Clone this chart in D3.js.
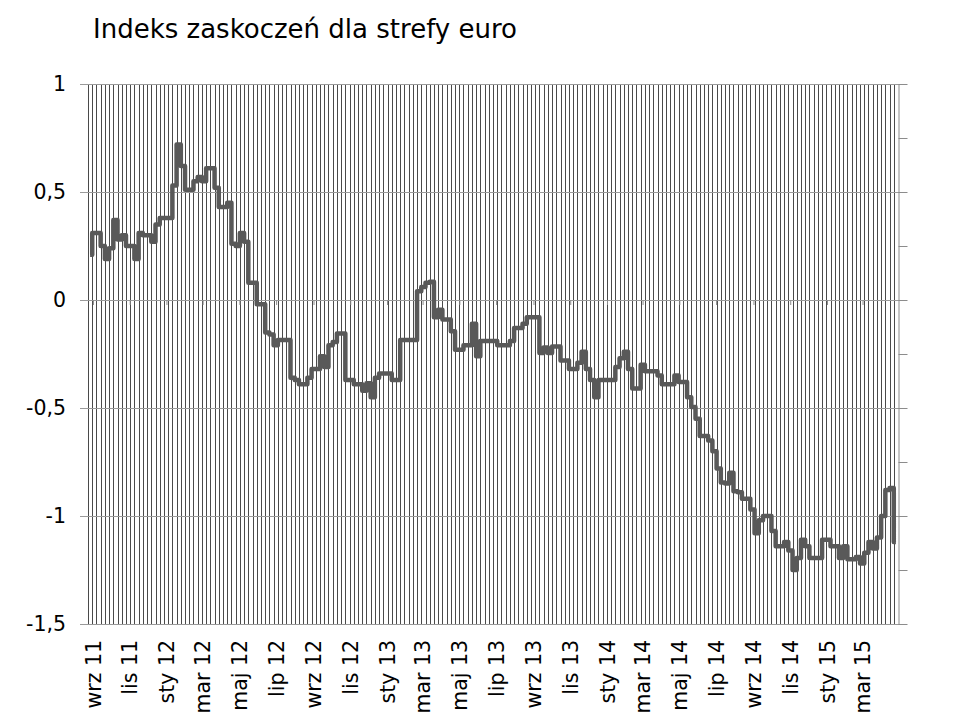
<!DOCTYPE html>
<html>
<head>
<meta charset="utf-8">
<script src="https://cdn.jsdelivr.net/npm/d3@7"></script>
<style>
  body { margin: 0; background: #fff; }
  text { font-family: "DejaVu Sans", Verdana, sans-serif; }
</style>
</head>
<body>
<svg id="graf" width="956" height="719"></svg>
<script>
// data (weekly index)

var title = "Indeks zaskoczeń dla strefy euro"
var firstWeek = "2011-08-23"

var values = [
  0.21, 0.31, 0.31, 0.25, 0.19, 0.24, 0.37, 0.28, 0.30, 0.25,
  0.25, 0.19, 0.31, 0.30, 0.30, 0.27, 0.35, 0.38, 0.38, 0.38,
  0.53, 0.72, 0.62, 0.51, 0.51, 0.55, 0.57, 0.55, 0.61, 0.61,
  0.52, 0.43, 0.43, 0.45, 0.26, 0.25, 0.31, 0.27, 0.08, 0.08,
  -0.02, -0.02, -0.15, -0.16, -0.21, -0.185, -0.185, -0.185, -0.36, -0.37,
  -0.39, -0.39, -0.36, -0.32, -0.32, -0.26, -0.31, -0.21, -0.195, -0.155,
  -0.155, -0.37, -0.37, -0.39, -0.39, -0.42, -0.385, -0.45, -0.36, -0.34,
  -0.34, -0.34, -0.37, -0.37, -0.185, -0.185, -0.185, -0.185, 0.04, 0.06,
  0.08, 0.085, -0.08, -0.045, -0.09, -0.09, -0.145, -0.23, -0.23, -0.21,
  -0.21, -0.11, -0.26, -0.19, -0.19, -0.19, -0.19, -0.21, -0.21, -0.21,
  -0.19, -0.13, -0.13, -0.11, -0.08, -0.08, -0.08, -0.245, -0.22, -0.245,
  -0.215, -0.215, -0.28, -0.28, -0.32, -0.32, -0.29, -0.24, -0.32, -0.37,
  -0.45, -0.37, -0.37, -0.37, -0.37, -0.31, -0.27, -0.24, -0.32, -0.41,
  -0.41, -0.30, -0.33, -0.33, -0.33, -0.35, -0.39, -0.39, -0.39, -0.35,
  -0.38, -0.38, -0.45, -0.495, -0.55, -0.63, -0.63, -0.65, -0.70, -0.78,
  -0.845, -0.85, -0.80, -0.885, -0.89, -0.92, -0.92, -0.97, -1.08, -1.02,
  -1.00, -1.00, -1.07, -1.14, -1.14, -1.12, -1.16, -1.25, -1.195, -1.11,
  -1.14, -1.195, -1.195, -1.195, -1.11, -1.11, -1.14, -1.14, -1.195, -1.14,
  -1.20, -1.20, -1.19, -1.22, -1.17, -1.12, -1.15, -1.10, -1.00, -0.88,
  -0.87, -1.12
]

var tickMonths = ["2011-09-01", "2011-11-01", "2012-01-01", "2012-03-01", "2012-05-01", "2012-07-01",
  "2012-09-01", "2012-11-01", "2013-01-01", "2013-03-01", "2013-05-01", "2013-07-01",
  "2013-09-01", "2013-11-01", "2014-01-01", "2014-03-01", "2014-05-01", "2014-07-01",
  "2014-09-01", "2014-11-01", "2015-01-01", "2015-03-01"]
var tickLabels = ["wrz 11", "lis 11", "sty 12", "mar 12", "maj 12", "lip 12",
  "wrz 12", "lis 12", "sty 13", "mar 13", "maj 13", "lip 13",
  "wrz 13", "lis 13", "sty 14", "mar 14", "maj 14", "lip 14",
  "wrz 14", "lis 14", "sty 15", "mar 15"]

var yTicks = [1, 0.5, 0, -0.5, -1, -1.5]

var Svg = d3.select("#graf")
var pLeft = 88, pRight = 898, pTop = 84, pBottom = 624

var parse = d3.timeParse("%Y-%m-%d")
var start = parse(firstWeek)

var x = d3.scaleBand().domain(d3.range(values.length)).range([pLeft, pRight])
var xTime = d3.scaleTime().domain([start, d3.timeDay.offset(start, 7 * values.length)]).range([pLeft, pRight])
var y = d3.scaleLinear().domain([-1.5, 1]).range([pBottom, pTop])

// weekly vertical lines
Svg.append("g").selectAll("line").data(d3.range(values.length)).enter().append("line")
  .attr("x1", d => Math.round(x(d)) + 0.5).attr("x2", d => Math.round(x(d)) + 0.5)
  .attr("y1", pTop).attr("y2", pBottom)
  .attr("stroke", "#4a4a4a").attr("stroke-width", 1)

// horizontal grid
Svg.append("g").selectAll("line").data(yTicks).enter().append("line")
  .attr("x1", pLeft - 8).attr("x2", pRight + 9)
  .attr("y1", d => Math.round(y(d)) + 0.5).attr("y2", d => Math.round(y(d)) + 0.5)
  .attr("stroke", "#9a9a9a")

// left axis labels
var osaY = Svg.append("g").attr("transform", "translate(" + pLeft + ",0)")
  .call(d3.axisLeft(y).tickValues(yTicks).tickSize(0).tickPadding(22)
    .tickFormat(d => String(d).replace(".", ",")))
osaY.select(".domain").remove()
osaY.selectAll("text").style("font-size", "20.5px").attr("fill", "#000")

// right axis with small ticks
var osaR = Svg.append("g").attr("transform", "translate(" + (pRight + 0.5) + ",0)")
  .call(d3.axisRight(y).tickValues(d3.range(-6, 5).map(k => k * 0.25)).tickSize(9).tickSizeOuter(0).tickFormat(""))
osaR.selectAll("line, path").attr("stroke", "#8c8c8c")

// month ticks on zero line
Svg.append("g").selectAll("line").data(tickMonths).enter().append("line")
  .attr("x1", d => xTime(parse(d))).attr("x2", d => xTime(parse(d)))
  .attr("y1", y(0)).attr("y2", y(0) + 5)
  .attr("stroke", "#8c8c8c")

// month labels
Svg.append("g").selectAll("text").data(tickMonths).enter().append("text")
  .attr("transform", d => "translate(" + xTime(parse(d)) + ",640) rotate(-90)")
  .attr("text-anchor", "end")
  .attr("dy", "0.35em")
  .style("font-size", "20.5px")
  .text((d, i) => tickLabels[i])

// series
var cara = d3.line()
  .x((d, i) => x(i) + x.bandwidth() / 2)
  .y(d => y(d))
  .curve(d3.curveStep)
Svg.append("path").datum(values)
  .attr("d", cara)
  .attr("fill", "none")
  .attr("stroke", "#595959")
  .attr("stroke-width", 4.5)
  .attr("stroke-linejoin", "round")

Svg.append("text").attr("x", 93).attr("y", 38)
  .style("font-size", "26px").text(title)
</script>
</body>
</html>
